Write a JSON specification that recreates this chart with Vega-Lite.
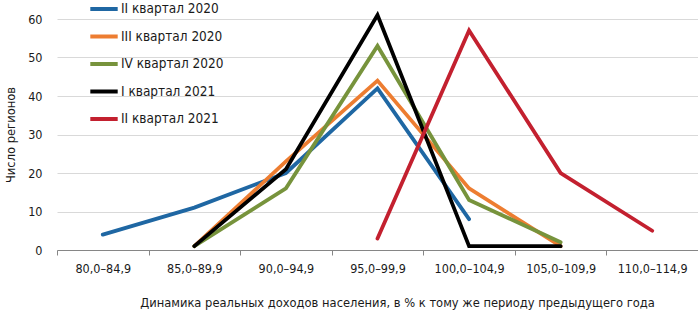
{
  "$schema": "https://vega.github.io/schema/vega-lite/v6.json",
  "width": 641,
  "height": 231,
  "autosize": {"type": "none"},
  "padding": {"left": 57, "top": 19, "right": 0, "bottom": 62},
  "background": "white",
  "config": {
    "view": {"stroke": null},
    "font": "DejaVu Sans Condensed, Liberation Sans, sans-serif",
    "legend": {"labelFont": "DejaVu Sans Condensed, Liberation Sans, sans-serif"},
    "axis": {"labelFont": "DejaVu Sans Condensed, Liberation Sans, sans-serif", "titleFont": "DejaVu Sans Condensed, Liberation Sans, sans-serif", "labelColor": "#1a1a1a", "titleColor": "#1a1a1a", "titleFontWeight": "normal"}
  },
  "data": {
    "values": [
      {"s": "II квартал 2020", "x": "80,0–84,9", "v": 4},
      {"s": "II квартал 2020", "x": "85,0–89,9", "v": 11},
      {"s": "II квартал 2020", "x": "90,0–94,9", "v": 20},
      {"s": "II квартал 2020", "x": "95,0–99,9", "v": 42},
      {"s": "II квартал 2020", "x": "100,0–104,9", "v": 8},
      {"s": "III квартал 2020", "x": "85,0–89,9", "v": 1},
      {"s": "III квартал 2020", "x": "90,0–94,9", "v": 23},
      {"s": "III квартал 2020", "x": "95,0–99,9", "v": 44},
      {"s": "III квартал 2020", "x": "100,0–104,9", "v": 16},
      {"s": "III квартал 2020", "x": "105,0–109,9", "v": 1},
      {"s": "IV квартал 2020", "x": "85,0–89,9", "v": 1},
      {"s": "IV квартал 2020", "x": "90,0–94,9", "v": 16},
      {"s": "IV квартал 2020", "x": "95,0–99,9", "v": 53},
      {"s": "IV квартал 2020", "x": "100,0–104,9", "v": 13},
      {"s": "IV квартал 2020", "x": "105,0–109,9", "v": 2},
      {"s": "I квартал 2021", "x": "85,0–89,9", "v": 1},
      {"s": "I квартал 2021", "x": "90,0–94,9", "v": 21},
      {"s": "I квартал 2021", "x": "95,0–99,9", "v": 61},
      {"s": "I квартал 2021", "x": "100,0–104,9", "v": 1},
      {"s": "I квартал 2021", "x": "105,0–109,9", "v": 1},
      {"s": "II квартал 2021", "x": "95,0–99,9", "v": 3},
      {"s": "II квартал 2021", "x": "100,0–104,9", "v": 57},
      {"s": "II квартал 2021", "x": "105,0–109,9", "v": 20},
      {"s": "II квартал 2021", "x": "110,0–114,9", "v": 5}
    ]
  },
  "mark": {"type": "line", "strokeWidth": 3.8, "strokeCap": "round", "strokeJoin": "miter"},
  "encoding": {
    "x": {
      "field": "x", "type": "ordinal", "bandPosition": 0.5,
      "sort": ["80,0–84,9", "85,0–89,9", "90,0–94,9", "95,0–99,9", "100,0–104,9", "105,0–109,9", "110,0–114,9"],
      "scale": {"type": "band", "paddingInner": 0, "paddingOuter": 0,
        "domain": ["80,0–84,9", "85,0–89,9", "90,0–94,9", "95,0–99,9", "100,0–104,9", "105,0–109,9", "110,0–114,9"]},
      "axis": {
        "title": "Динамика реальных доходов населения, в % к тому же периоду предыдущего года",
        "titleFontSize": 12.8, "titleX": 340, "titleY": 52, "titleBaseline": "middle",
        "labelAngle": 0, "labelFontSize": 12.5, "labelPadding": 7,
        "tickBand": "extent", "ticks": true, "tickSize": 5, "tickColor": "#868686",
        "domainColor": "#868686", "grid": false
      }
    },
    "y": {
      "field": "v", "type": "quantitative",
      "scale": {"domain": [0, 60], "nice": false},
      "axis": {
        "title": "Число регионов", "titleFontSize": 12.8, "titleX": -47, "titleBaseline": "middle",
        "values": [0, 10, 20, 30, 40, 50, 60], "labelFontSize": 12.5, "labelPadding": 15,
        "ticks": false, "domain": false, "gridColor": "#d9d9d9", "gridWidth": 1
      }
    },
    "color": {
      "field": "s", "type": "nominal",
      "sort": ["II квартал 2020", "III квартал 2020", "IV квартал 2020", "I квартал 2021", "II квартал 2021"],
      "scale": {
        "domain": ["II квартал 2020", "III квартал 2020", "IV квартал 2020", "I квартал 2021", "II квартал 2021"],
        "range": ["#1f67a3", "#ed7d31", "#77933c", "#000000", "#c3202f"]
      },
      "legend": {
        "title": null, "orient": "none", "legendX": 31, "legendY": -26,
        "symbolType": "stroke", "symbolSize": 750, "symbolStrokeWidth": 4,
        "labelFontSize": 13.5, "labelOffset": 1, "rowPadding": 3.5, "labelColor": "#1a1a1a"
      }
    }
  }
}
